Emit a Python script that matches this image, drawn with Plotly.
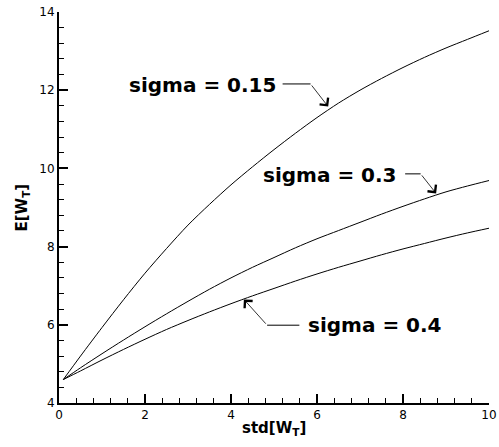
import plotly.graph_objects as go

# ---- data ----
x_s015 = [0.1, 0.5, 1.0, 1.5, 2.0, 2.5, 3.0, 3.5, 4.0, 4.5, 5.0, 5.5, 6.0, 6.5, 7.0, 7.5, 8.0, 8.5, 9.0, 9.5, 10.0]
y_s015 = [4.6, 5.2, 5.93, 6.64, 7.32, 7.95, 8.55, 9.08, 9.58, 10.04, 10.48, 10.9, 11.3, 11.67, 12.0, 12.3, 12.58, 12.84, 13.08, 13.3, 13.52]

x_s03 = [0.1, 0.5, 1.0, 1.5, 2.0, 2.5, 3.0, 3.5, 4.0, 4.5, 5.0, 5.5, 6.0, 6.5, 7.0, 7.5, 8.0, 8.5, 9.0, 9.5, 10.0]
y_s03 = [4.6, 4.9, 5.26, 5.61, 5.95, 6.28, 6.6, 6.91, 7.2, 7.47, 7.72, 7.97, 8.2, 8.41, 8.62, 8.83, 9.03, 9.22, 9.4, 9.55, 9.69]

x_s04 = [0.1, 0.5, 1.0, 1.5, 2.0, 2.5, 3.0, 3.5, 4.0, 4.5, 5.0, 5.5, 6.0, 6.5, 7.0, 7.5, 8.0, 8.5, 9.0, 9.5, 10.0]
y_s04 = [4.6, 4.82, 5.1, 5.37, 5.63, 5.88, 6.11, 6.33, 6.54, 6.74, 6.93, 7.12, 7.3, 7.47, 7.63, 7.79, 7.94, 8.08, 8.22, 8.35, 8.47]

labels = ["sigma = 0.15", "sigma = 0.3", "sigma = 0.4"]
# label anchor (x, y), leader horizontal segment, arrow tip
label_pos = [(5.10, 12.14), (7.91, 9.83), (5.74, 5.99)]
label_anchor = ["right", "right", "left"]
leader_h = [((5.20, 12.16), (5.85, 12.16)),
            ((8.05, 9.86), (8.41, 9.86)),
            ((5.59, 5.99), (4.84, 5.99))]
arrow_tip = [(6.26, 11.58), (8.77, 9.36), (4.30, 6.65)]

x_ticks = [0, 2, 4, 6, 8, 10]
y_ticks = [4, 6, 8, 10, 12, 14]

FONT = "DejaVu Sans, Liberation Sans, Arial, sans-serif"

fig = go.Figure()
for xs, ys in [(x_s015, y_s015), (x_s03, y_s03), (x_s04, y_s04)]:
    fig.add_trace(go.Scatter(x=xs, y=ys, mode="lines",
                             line=dict(color="black", width=1, shape="spline", smoothing=0.8),
                             showlegend=False, hoverinfo="skip"))

annotations = []
shapes = []
for lab, (lx, ly), anc, (p0, p1), (tx, ty) in zip(labels, label_pos, label_anchor, leader_h, arrow_tip):
    annotations.append(dict(x=lx, y=ly, xref="x", yref="y", text="<b>%s</b>" % lab,
                            showarrow=False, xanchor=anc, yanchor="middle",
                            font=dict(family=FONT, size=20, color="black")))
    shapes.append(dict(type="line", xref="x", yref="y", x0=p0[0], y0=p0[1], x1=p1[0], y1=p1[1],
                       line=dict(color="black", width=1)))
    annotations.append(dict(x=tx, y=ty, xref="x", yref="y", ax=p1[0], ay=p1[1],
                            axref="x", ayref="y", text="", showarrow=True,
                            arrowhead=4, arrowsize=2.6, arrowwidth=0.8, arrowcolor="black"))

annotations.append(dict(x=0.5, y=-0.066, xref="paper", yref="paper",
                        text="<b>std[W<sub>T</sub>]</b>", showarrow=False,
                        xanchor="center", yanchor="middle",
                        font=dict(family=FONT, size=15, color="black")))
annotations.append(dict(x=-0.086, y=0.5, xref="paper", yref="paper",
                        text="<b>E[W<sub>T</sub>]</b>", showarrow=False, textangle=-90,
                        xanchor="center", yanchor="middle",
                        font=dict(family=FONT, size=15, color="black")))

axis_common = dict(showgrid=False, zeroline=False, showline=True, linecolor="black",
                   linewidth=2, ticks="inside", ticklen=9, tickwidth=2, tickcolor="black",
                   automargin=False,
                   tickfont=dict(family=FONT, size=12, color="black"),
                   minor=dict(dtick=0.4, ticks="inside", ticklen=5, tickwidth=1.3,
                              tickcolor="black", showgrid=False))

fig.update_layout(
    width=499, height=447,
    margin=dict(l=59, r=10, t=12, b=44),
    paper_bgcolor="white", plot_bgcolor="white",
    xaxis=dict(range=[0, 10], tickvals=x_ticks, ticktext=[str(v) for v in x_ticks], **axis_common),
    yaxis=dict(range=[4, 14], tickvals=y_ticks, ticktext=[str(v) for v in y_ticks], **axis_common),
    annotations=annotations, shapes=shapes,
)

fig.write_html("out.html", config={"displayModeBar": False},
               post_script="document.body.style.margin='0';")
